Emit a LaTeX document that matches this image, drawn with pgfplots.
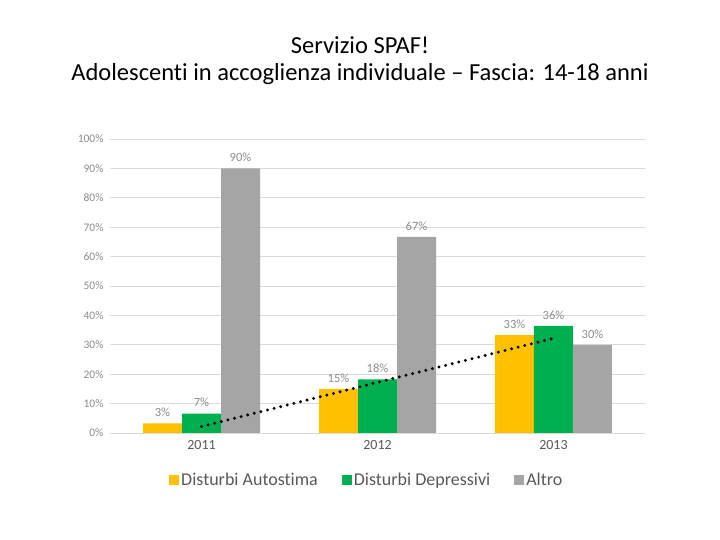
\documentclass[border=0pt]{standalone}
\usepackage{pgfplots}
\pgfplotsset{compat=1.18}
\usepackage{fontspec}
\setmainfont{Carlito}[Ligatures=NoCommon]
\definecolor{cyel}{HTML}{FFC000}
\definecolor{cgrn}{HTML}{00B050}
\definecolor{cgry}{HTML}{A5A5A5}
\definecolor{cgrid}{HTML}{D9D9D9}
\definecolor{ctxt}{HTML}{595959}
\definecolor{ctick}{HTML}{8C8C8C}
\begin{document}
\begin{tikzpicture}[x=1pt,y=1pt]
\path[use as bounding box, fill=white] (0,0) rectangle (720,540);
\node[font=\fontsize{24.5}{28}\selectfont, text=black] at (360,495) {Servizio SPAF!};
\node[font=\fontsize{24.5}{28}\selectfont, text=black] at (360,466) {Adolescenti in accoglienza individuale – Fascia: 14-18 anni};
\begin{axis}[
  at={(110pt,107pt)}, anchor=south west,
  scale only axis, width=535pt, height=294pt,
  xmin=-0.52, xmax=2.52, ymin=0, ymax=100,
  axis line style={draw=none},
  axis x line*=bottom,
  xtick={0,1,2}, xticklabels={2011,2012,2013},
  ytick={0,10,...,100},
  yticklabel={\pgfmathprintnumber{\tick}\%},
  /pgf/number format/assume math mode=true,
  ymajorgrids, grid style={cgrid, line width=0.8pt},
  major tick length=0pt,
  tick label style={font=\fontsize{11.5}{13}\selectfont, text=ctick},
  yticklabel style={xshift=-3pt},
  xticklabel style={font=\fontsize{14}{16}\selectfont, text=ctxt, yshift=-4pt},
  bar width=39pt,
  nodes near coords={\pgfmathprintnumber[fixed,precision=0]{\pgfplotspointmeta}\%},
  every node near coord/.append style={font=\fontsize{12.5}{14}\selectfont, text=ctick, yshift=3pt},
  legend style={at={(0.48,-0.16)}, anchor=center, draw=none, legend columns=-1,
    font=\fontsize{18}{20}\selectfont, text=ctxt,
    /tikz/every even column/.append style={column sep=22pt}},
  legend image code/.code={\fill (0pt,-5pt) rectangle (10pt,5pt);},
  clip=false,
]
\addplot[ybar, bar shift=-39pt, fill=cyel, draw=none, every node near coord/.append style={xshift=-39pt}] coordinates {(0,3.3) (1,15.0) (2,33.3)};
\addlegendentry{Disturbi Autostima}
\addplot[ybar, bar shift=0pt, fill=cgrn, draw=none] coordinates {(0,6.6) (1,18.2) (2,36.4)};
\addlegendentry{Disturbi Depressivi}
\addplot[ybar, bar shift=39pt, fill=cgry, draw=none, every node near coord/.append style={xshift=39pt}] coordinates {(0,90.0) (1,66.7) (2,30.0)};
\addlegendentry{Altro}
\addplot[sharp plot, black, line width=3.3pt, line cap=round, dash pattern=on 0pt off 6.8pt, nodes near coords={}, forget plot] coordinates {(0,2.2) (2,32.2)};
\draw[cgrid, line width=0.8pt] (axis cs:-0.52,0) -- (axis cs:2.52,0);
\end{axis}
\end{tikzpicture}
\end{document}
